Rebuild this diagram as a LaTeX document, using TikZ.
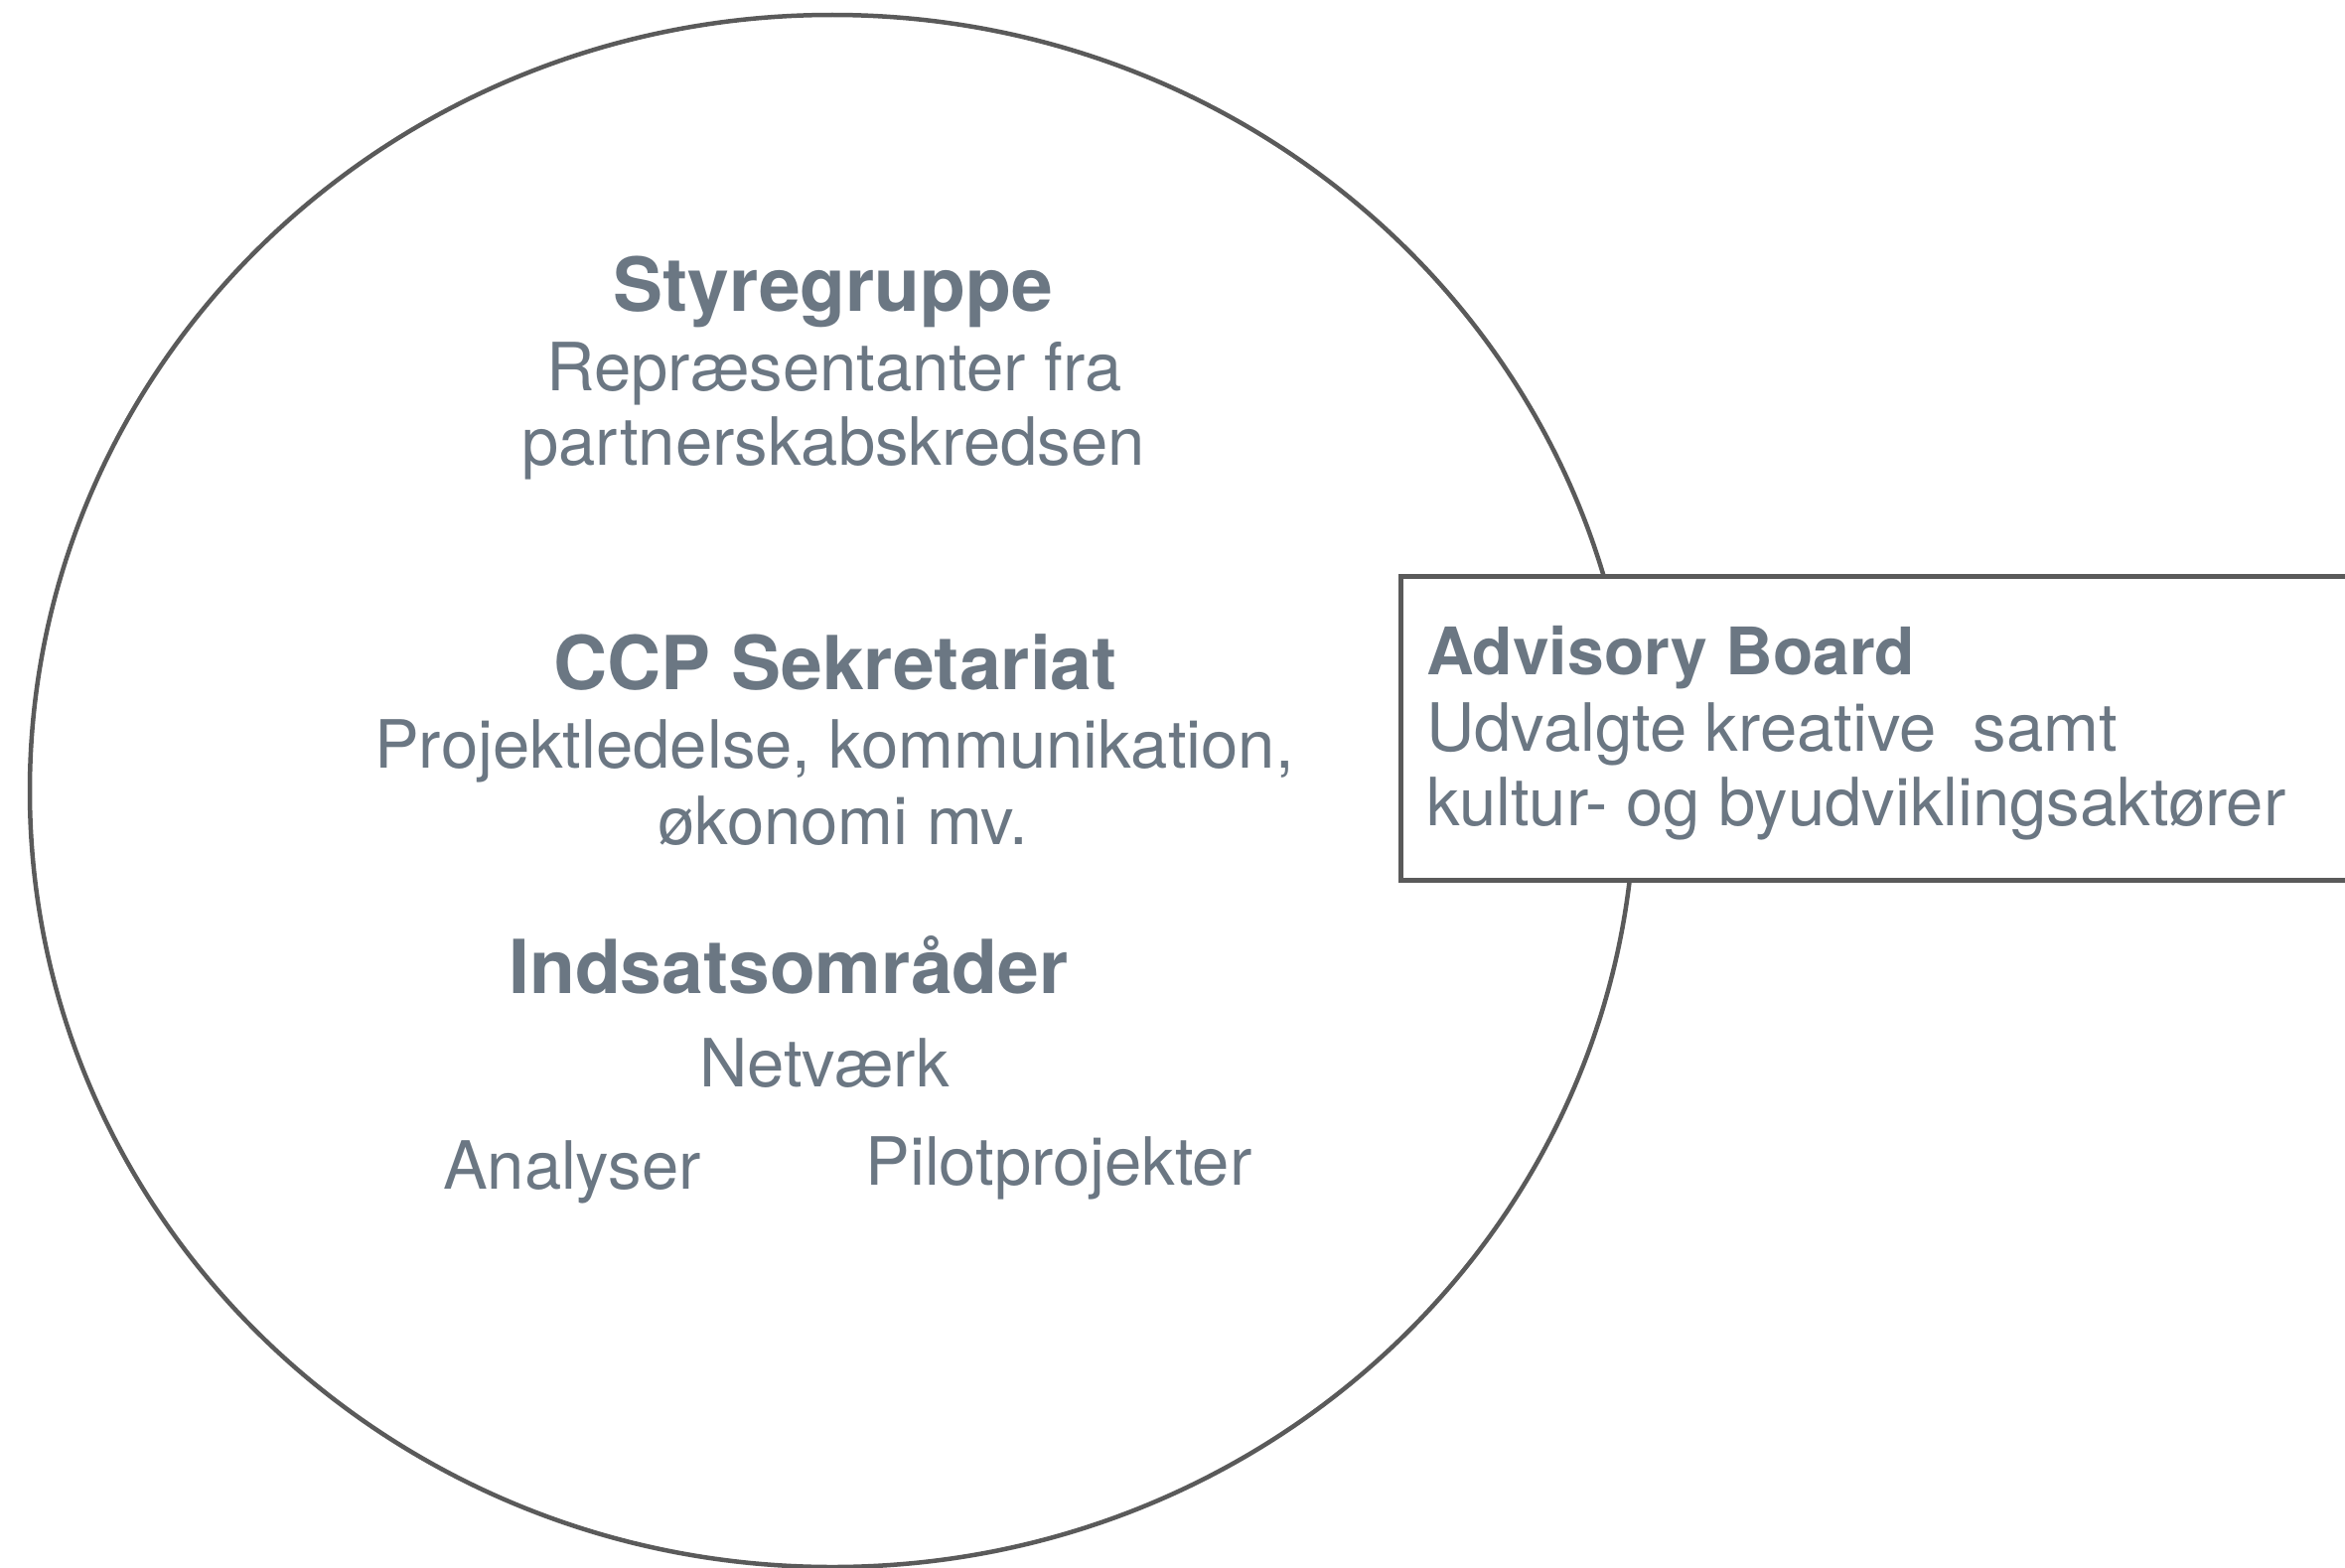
\documentclass[tikz,border=0pt]{standalone}
\usepackage{fontspec}
\setmainfont{TeX Gyre Heros}
\usetikzlibrary{positioning}
\definecolor{slate}{HTML}{6B7783}
\definecolor{rim}{HTML}{5A5A5A}
\tikzset{
  head/.style={anchor=base, text=slate, inner sep=0pt, font=\fontsize{75}{76}\selectfont\bfseries},
  body/.style={anchor=base, text=slate, inner sep=0pt, font=\fontsize{67}{76}\selectfont},
}
\begin{document}
\begin{tikzpicture}[x=1pt,y=-1pt]
\useasboundingbox (0,0) rectangle (2361,1579);
\fill [white] (0,0) rectangle (2361,1579);
% organisation circle
\draw [rim, line width=4.5] (838,796.5) ellipse [x radius=808, y radius=781.5];
% advisory board box, runs off the page
\node (board) at (1895,733) [draw=rim, line width=5, fill=white, minimum width=970, minimum height=306, inner sep=0pt] {};
\node (styre) at (839,313) [head] {Styregruppe};
\node (styre1) at (840,393) [body] {Repræsentanter fra};
\node (styre2) at (839,468) [body] {partnerskabskredsen};
\node (ccp) at (841,694) [head] {CCP Sekretariat};
\node (ccp1) at (840,773) [body] {Projektledelse, kommunikation,};
\node (ccp2) at (849,850) [body] {økonomi mv.};
\node (indsats) at (794,1000) [head] {Indsatsområder};
\node (netvaerk) at (830,1094) [body] {Netværk};
\node (analyser) at (576,1197) [body] {Analyser};
\node (pilot) at (1066,1193) [body] {Pilotprojekter};
\node (adv) at (1436,679) [head, anchor=base west, font=\fontsize{66}{76}\selectfont\bfseries] {Advisory Board};
\node (adv1) at (1436,756) [body, anchor=base west] {Udvalgte kreative\ \ samt};
\node (adv2) at (1436,831) [body, anchor=base west] {kultur- og byudviklingsaktører};
\end{tikzpicture}
\end{document}
